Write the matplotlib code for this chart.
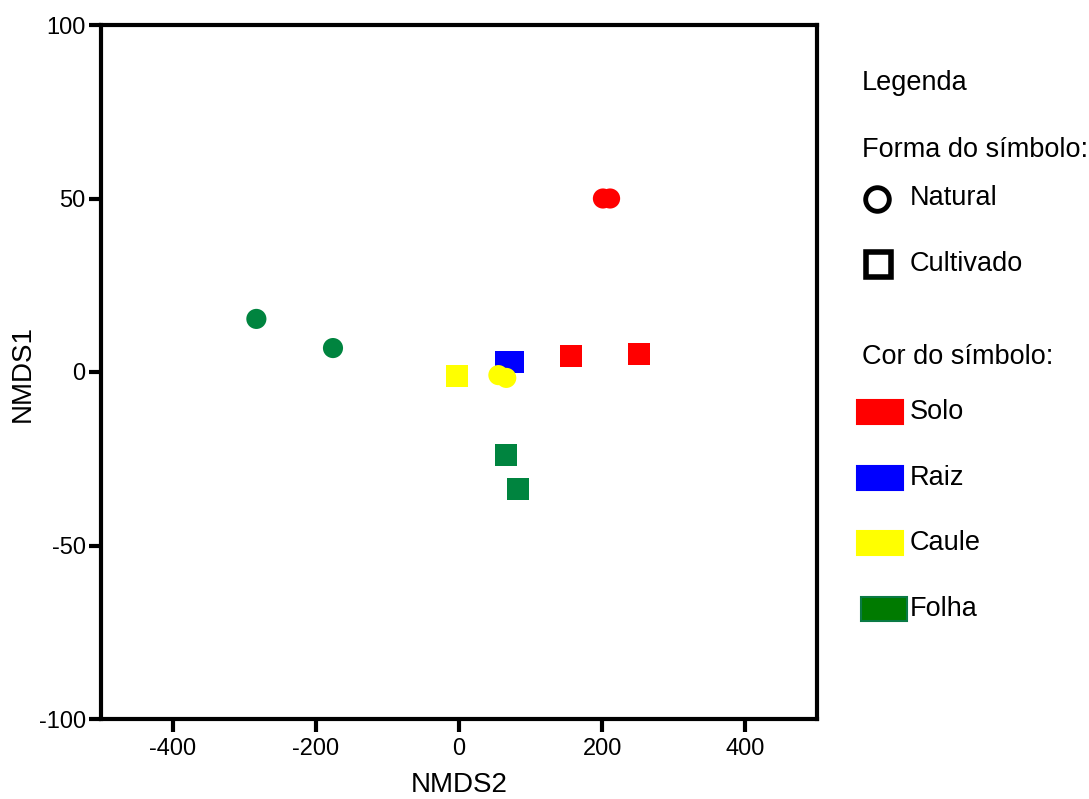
import matplotlib.pyplot as plt
from matplotlib.lines import Line2D
from matplotlib.patches import Rectangle

plt.rcParams['font.family'] = ['Liberation Sans', 'DejaVu Sans']
plt.rcParams['axes.unicode_minus'] = False

# NMDS scores
nat_x = [-283, -176, 201, 211, 55, 66]
nat_y = [15.3, 6.9, 50, 50, -0.9, -1.7]
nat_grp = ["Folha", "Folha", "Solo", "Solo", "Caule", "Caule"]

cult_x = [66, 76, 156, 251, -3, 66, 82]
cult_y = [3.0, 3.0, 4.6, 5.2, -1.2, -24, -33.7]
cult_grp = ["Raiz", "Raiz", "Solo", "Solo", "Caule", "Folha", "Folha"]

groups = ["Solo", "Raiz", "Caule", "Folha"]
colors = {"Solo": "#ff0000", "Raiz": "#0000ff", "Caule": "#ffff00", "Folha": "#00843f"}

xticks = [-400, -200, 0, 200, 400]
yticks = [-100, -50, 0, 50, 100]

W, H = 1089, 799
fig = plt.figure(figsize=(W / 100, H / 100), dpi=100)
ax = fig.add_axes([101 / W, 1 - 719 / H, (817 - 101) / W, (719 - 25) / H])

ax.scatter(cult_x, cult_y, c=[colors[g] for g in cult_grp], marker="s", s=250,
           linewidths=0, zorder=3)
ax.scatter(nat_x, nat_y, c=[colors[g] for g in nat_grp], marker="o", s=210,
           linewidths=0, zorder=4)

ax.set_xlim(-500, 500)
ax.set_ylim(-100, 100)
ax.set_xticks(xticks)
ax.set_yticks(yticks)
ax.tick_params(labelsize=17, width=3, length=9, direction="out", pad=5)
ax.tick_params(axis="y", pad=2)
for sp in ax.spines.values():
    sp.set_linewidth(3)
ax.set_xlabel("NMDS2", fontsize=20)
ax.set_ylabel("NMDS1", fontsize=20)
ax.xaxis.set_label_coords((459 - 101) / (817 - 101), -(772 - 719) / (719 - 25))
ax.yaxis.set_label_coords(-(101 - 36) / (817 - 101), (719 - 373) / (719 - 25))


def fx(px):
    return px / W


def fy(py):
    return 1 - py / H


# custom legend on the right
fs = 19.5
fig.text(fx(862), fy(83), "Legenda", fontsize=fs, va="center")
fig.text(fx(862), fy(150), "Forma do símbolo:", fontsize=fs, va="center")
fig.add_artist(Line2D([fx(877)], [fy(199)], marker="o", markersize=17,
                      markerfacecolor="none", markeredgecolor="black",
                      markeredgewidth=3.5, transform=fig.transFigure))
fig.text(fx(910), fy(198), "Natural", fontsize=fs, va="center")
fig.add_artist(Line2D([fx(878)], [fy(264)], marker="s", markersize=18,
                      markerfacecolor="none", markeredgecolor="black",
                      markeredgewidth=4, transform=fig.transFigure))
fig.text(fx(910), fy(264), "Cultivado", fontsize=fs, va="center")
fig.text(fx(862), fy(357), "Cor do símbolo:", fontsize=fs, va="center")

patch_y = [412, 478, 543, 609]
for g, py in zip(groups, patch_y):
    x0 = 857 if g != "Folha" else 861
    ec = colors[g] if g != "Folha" else "#0a7a45"
    fc = colors[g] if g != "Folha" else "#007a00"
    fig.add_artist(Rectangle((fx(x0), fy(py + 12)), 46 / W, 24 / H,
                             facecolor=fc, edgecolor=ec, linewidth=1.5,
                             transform=fig.transFigure))
    fig.text(fx(910), fy(py), g, fontsize=fs, va="center")

fig.savefig("out.png", dpi=100)
